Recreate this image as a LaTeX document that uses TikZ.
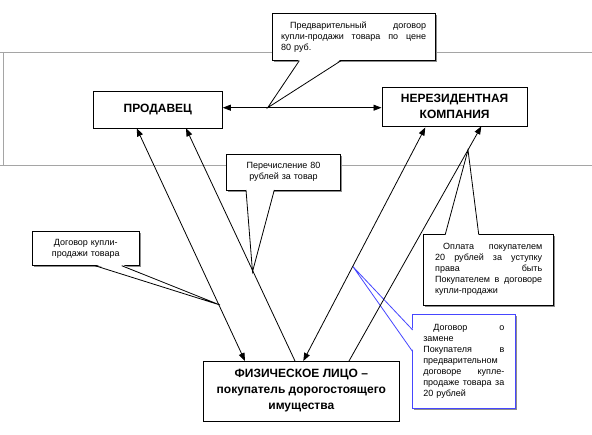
\documentclass[tikz,border=0pt]{standalone}
\usepackage{fontspec}
\setmainfont{Liberation Sans}
\usetikzlibrary{arrows.meta}
\definecolor{cblue}{RGB}{70,70,255}
\definecolor{rule}{RGB}{165,165,165}
\begin{document}
\begin{tikzpicture}[x=1pt,y=-1pt,
  mainbox/.style={draw=black, line width=1pt, fill=white, inner sep=0pt, align=center,
    font=\fontsize{12}{16}\selectfont\bfseries},
  callout/.style={draw=black, line width=0.8pt, fill=white, inner ysep=0pt,
    font=\fontsize{9}{11}\selectfont,
    preaction={fill=black!45, transform canvas={xshift=1.5pt,yshift=-1.5pt}}},
  wedge/.style={line width=0.8pt},
  conn/.style={line width=0.8pt},
  tipend/.style={-{Triangle[length=8pt,width=6pt]}},
  tipboth/.style={{Triangle[length=8pt,width=6pt]}-{Triangle[length=8pt,width=6pt]}},
  grayrule/.style={draw=rule, line width=0.9pt}
]
\useasboundingbox (0,0) rectangle (592,434);
\fill[white] (0,0) rectangle (592,434);

% gray frame lines
\coordinate (g1) at (0,52.3);
\coordinate (g2) at (592,52.3);
\coordinate (g3) at (0,165.7);
\coordinate (g4) at (592,165.7);
\coordinate (g5) at (3.3,52.3);
\coordinate (g6) at (3.3,165.7);
\draw[grayrule] (g1) -- (g2);
\draw[grayrule] (g3) -- (g4);
\draw[grayrule] (g5) -- (g6);

% main boxes
\node[mainbox, minimum width=129pt, minimum height=37.3pt] (prod) at (157.8,109.65) {ПРОДАВЕЦ};
\node[mainbox, minimum width=145.3pt, minimum height=39pt] (nerez) at (454.65,106.8) {НЕРЕЗИДЕНТНАЯ\\КОМПАНИЯ};
\node[mainbox, minimum width=196pt, minimum height=60pt] (phys) at (301.3,391) {ФИЗИЧЕСКОЕ ЛИЦО –\\покупатель дорогостоящего\\имущества};

% arrow end points
\coordinate (h) at (0,107.7);
\coordinate (pA) at (136.7,128.3);
\coordinate (pB) at (186,128.3);
\coordinate (nA) at (425.3,127.5);
\coordinate (nB) at (481.3,126.3);
\coordinate (fA) at (245,361);
\coordinate (fB) at (295,361);
\coordinate (fC) at (303.3,361);
\coordinate (fD) at (349,361);

% callout boxes
\node[callout, text width=145pt, inner xsep=9.15pt, minimum height=47.4pt, align=left] (c1) at (353.65,37)
  {\hspace*{9pt}Предварительный\hfill договор\\
   купли-продажи\hfill товара\hfill по\hfill цене\\
   80 руб.};
\node[callout, text width=100pt, inner xsep=6.8pt, minimum height=36pt, align=center] (c2) at (283.5,172)
  {Перечисление 80\\рублей за товар};
\node[callout, text width=95pt, inner xsep=6pt, minimum height=34pt, align=center] (c3) at (85.8,248.7)
  {Договор купли-\\продажи товара};
\node[callout, text width=107pt, inner xsep=11.5pt, minimum height=70.7pt, align=left] (c4) at (488.7,269.65)
  {\hspace*{8pt}Оплата\hfill покупателем\\
   20\hfill рублей\hfill за\hfill уступку\\
   права\hfill быть\\
   Покупателем\hfill в\hfill договоре\\
   купли-продажи};
\node[callout, draw=cblue, text width=81pt, inner xsep=10.65pt, minimum height=94.4pt, align=left] (c5) at (463.85,361.5)
  {\hspace*{10pt}Договор\hfill о\\
   замене\\
   Покупателя\hfill в\\
   предварительном\\
   договоре\hfill купле-\\
   продаже\hfill товара\hfill за\\
   20 рублей};

% wedges of the callouts
\coordinate (t1) at (267.7,107.7);
\coordinate (t2) at (252.5,271.7);
\coordinate (t3) at (220,305);
\coordinate (t4) at (468,150);
\coordinate (t5) at (353,266.7);

\fill[white] (299.3,59.4) -- (t1) -- (341,59.4) -- cycle;
\draw[wedge] (299.3,60.7) -- (t1) -- (341,60.7);

\fill[white] (246,188.8) -- (t2) -- (274.3,188.8) -- cycle;
\draw[wedge] (246,190) -- (t2) -- (274.3,190);

\fill[white] (95,264.5) -- (t3) -- (121.7,264.5) -- cycle;
\draw[wedge] (95,265.7) -- (t3) -- (121.7,265.7);

\fill[white] (445.3,235.5) -- (t4) -- (478.7,235.5) -- cycle;
\draw[wedge] (445.3,234.3) -- (t4) -- (478.7,234.3);

\fill[white] (413.9,330) -- (t5) -- (413.9,351.7) -- cycle;
\draw[wedge, draw=cblue] (412.7,330) -- (t5) -- (412.7,351.7);

% connectors
\draw[conn, tipboth] (prod.east |- h) -- (nerez.west |- h);
\draw[conn, tipboth] (pA) -- (fA);
\draw[conn, tipend] (fB) -- (pB);
\draw[conn, tipboth] (nA) -- (fC);
\draw[conn, tipend] (fD) -- (nB);
\end{tikzpicture}
\end{document}
